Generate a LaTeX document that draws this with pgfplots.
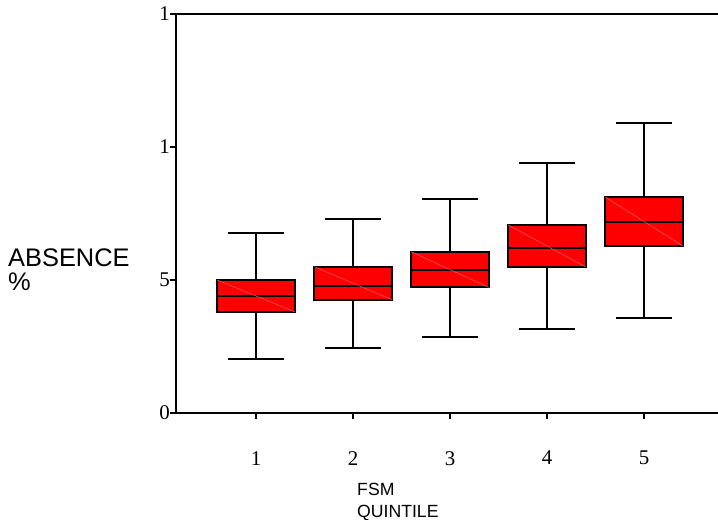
\documentclass[border=0pt]{standalone}
\usepackage{fontspec}
\setmainfont{Liberation Serif}
\newfontfamily\arial{Liberation Sans}
\usepackage{pgfplots}
\usepgfplotslibrary{statistics}
\pgfplotsset{compat=1.18}
\definecolor{boxred}{RGB}{255,0,0}
\definecolor{streak}{RGB}{255,100,100}

\pgfplotsset{
  qbox/.style={fill=boxred, draw=black, line width=1.8bp, solid},
  streakline/.style={streak, line width=0.5bp, forget plot},
  boxplot/draw direction=y,
  boxplot/box extend=0.8,
  boxplot/whisker extend=0.57,
  boxplot/every box/.style={fill=boxred, draw=black, line width=1.9bp},
  boxplot/every whisker/.style={black, line width=1.8bp},
  boxplot/every median/.style={black, line width=1.9bp},
}

\begin{document}
\begin{tikzpicture}
\begin{axis}[
    name=ax,
    scale only axis,
    width=542bp, height=399bp,
    xmin=0.175, xmax=5.763,
    ymin=0, ymax=15,
    axis x line*=box, axis y line*=left,
    axis line style={line width=1.8bp},
    xtick={1,2,3,4,5}, xticklabels={1,2,3,4,5},
    ytick={0,5,10,15}, yticklabels={0,5,1,1},
    xtick pos=left, ytick pos=left,
    tick align=outside,
    major tick length=6bp,
    tick style={line width=1.3bp, black},
    ticklabel style={font=\fontsize{21}{24}\selectfont, inner sep=0pt},
    xticklabel style={yshift=-32bp},
    ylabel={ABSENCE\\\%},
    ylabel style={font=\arial\fontsize{25.5}{24}\selectfont, rotate=-90, align=left,
      anchor=west, inner sep=0pt, at={(axis description cs:-0.31,0.36)}},
    xlabel={FSM\\QUINTILE},
    xlabel style={font=\arial\fontsize{17.7}{22}\selectfont, align=left,
      anchor=north west, inner sep=0pt, at={(axis description cs:0.334,-0.176)}},
    clip=false,
]
% quintile 1
\addplot[qbox, boxplot prepared={draw position=1, lower whisker=2.03, lower quartile=3.80,
  median=4.40, upper quartile=5.00, upper whisker=6.77}] coordinates {};
\addplot[streakline] coordinates {(0.6,5.00) (1.4,3.80)};
% quintile 2
\addplot[qbox, boxplot prepared={draw position=2, lower whisker=2.45, lower quartile=4.26,
  median=4.79, upper quartile=5.50, upper whisker=7.28}] coordinates {};
\addplot[streakline] coordinates {(1.6,5.50) (2.4,4.26)};
% quintile 3
\addplot[qbox, boxplot prepared={draw position=3, lower whisker=2.85, lower quartile=4.72,
  median=5.39, upper quartile=6.06, upper whisker=8.05}] coordinates {};
\addplot[streakline] coordinates {(2.6,6.06) (3.4,4.72)};
% quintile 4
\addplot[qbox, boxplot prepared={draw position=4, lower whisker=3.15, lower quartile=5.49,
  median=6.21, upper quartile=7.07, upper whisker=9.39}] coordinates {};
\addplot[streakline] coordinates {(3.6,7.07) (4.4,5.49)};
% quintile 5
\addplot[qbox, boxplot prepared={draw position=5, lower whisker=3.57, lower quartile=6.28,
  median=7.18, upper quartile=8.12, upper whisker=10.90}] coordinates {};
\addplot[streakline] coordinates {(4.6,8.12) (5.4,6.28)};
\end{axis}
\pgfresetboundingbox
\path ([xshift=-176bp,yshift=-107bp]ax.south west) rectangle ([yshift=14bp]ax.north east);
\end{tikzpicture}
\end{document}
